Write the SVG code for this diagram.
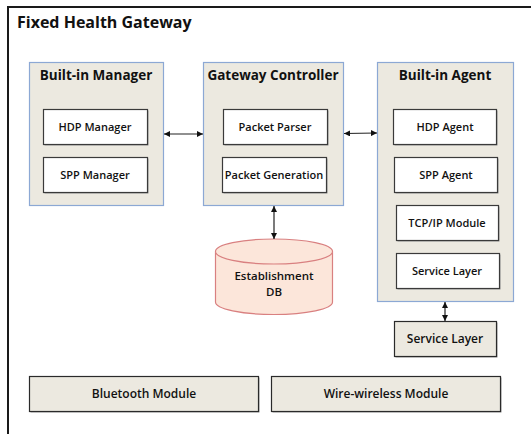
<svg xmlns="http://www.w3.org/2000/svg" width="531" height="434" viewBox="0 0 531 434">
<style>
.frame{fill:none;stroke:#1a1a1a;stroke-width:2}
.grp{fill:#ECE9E0;stroke:#8CA8D4;stroke-width:1.2}
.box{fill:#fff;stroke:#3a3a3a;stroke-width:1.2}
.bbox{fill:#ECE9E0;stroke:#2a2a2a;stroke-width:1.2}
.sh{fill:#9a9a9a}
.db{fill:#FCE6DA;stroke:#D98080;stroke-width:1.2}
text{font-family:"Open Sans","Noto Sans",sans-serif;fill:#111;text-anchor:middle}
.t0{font-size:16px;font-weight:700;text-anchor:start}
.t1{font-size:13.5px;font-weight:700}
.t2{font-size:11px;font-weight:600}
.t3{font-size:12px;font-weight:600}
.t4{font-size:11.5px;font-weight:600}
.conn line{stroke:#222;stroke-width:1.2}
</style>
<defs>
<marker id="ah" viewBox="0 0 10 10" refX="10" refY="5" markerWidth="6" markerHeight="6" orient="auto-start-reverse" markerUnits="userSpaceOnUse">
<path d="M0,0 L10,5 L0,10 z" fill="#111"/>
</marker>
</defs>
<g id="frame">
<line class="frame" x1="8" y1="7" x2="531" y2="7"/>
<line class="frame" x1="8" y1="6" x2="8" y2="434"/>
<text class="t0" x="17" y="28">Fixed Health Gateway</text>
</g>
<g id="built-in-manager">
<rect class="grp" x="29.5" y="62.5" width="134" height="143"/>
<text class="t1" x="96" y="80">Built-in Manager</text>
</g>
<g id="hdp-manager">
<rect class="sh" x="44.5" y="110.5" width="104" height="35"/>
<rect class="box" x="43.5" y="109.5" width="104" height="35"/>
<text class="t2" x="95" y="131">HDP Manager</text>
</g>
<g id="spp-manager">
<rect class="sh" x="44.5" y="158.5" width="104" height="35"/>
<rect class="box" x="43.5" y="157.5" width="104" height="35"/>
<text class="t2" x="95" y="179">SPP Manager</text>
</g>
<g id="gateway-controller">
<rect class="grp" x="203.5" y="62.5" width="140" height="143"/>
<text class="t1" x="273" y="80">Gateway Controller</text>
</g>
<g id="packet-parser">
<rect class="sh" x="224.5" y="110.5" width="104" height="35"/>
<rect class="box" x="223.5" y="109.5" width="104" height="35"/>
<text class="t2" x="275" y="131">Packet Parser</text>
</g>
<g id="packet-generation">
<rect class="sh" x="223.5" y="158.5" width="104" height="35"/>
<rect class="box" x="222.5" y="157.5" width="104" height="35"/>
<text class="t2" x="274" y="179">Packet Generation</text>
</g>
<g id="built-in-agent">
<rect class="grp" x="377.5" y="62.5" width="136" height="239"/>
<text class="t1" x="445" y="80">Built-in Agent</text>
</g>
<g id="hdp-agent">
<rect class="sh" x="394.5" y="110.5" width="103" height="35"/>
<rect class="box" x="393.5" y="109.5" width="103" height="35"/>
<text class="t2" x="445" y="131">HDP  Agent</text>
</g>
<g id="spp-agent">
<rect class="sh" x="395.5" y="158.5" width="103" height="35"/>
<rect class="box" x="394.5" y="157.5" width="103" height="35"/>
<text class="t2" x="446" y="179">SPP Agent</text>
</g>
<g id="tcpip-module">
<rect class="sh" x="397.5" y="206.5" width="102" height="35"/>
<rect class="box" x="396.5" y="205.5" width="102" height="35"/>
<text class="t2" x="447" y="227">TCP/IP Module</text>
</g>
<g id="service-layer-inner">
<rect class="sh" x="397.5" y="254.5" width="103" height="35"/>
<rect class="box" x="396.5" y="253.5" width="103" height="35"/>
<text class="t2" x="447" y="275">Service Layer</text>
</g>
<g id="service-layer-outer">
<rect class="sh" x="395.5" y="322.5" width="102" height="35"/>
<rect class="bbox" x="394.5" y="321.5" width="102" height="35"/>
<text class="t3" x="445" y="343">Service Layer</text>
</g>
<g id="establishment-db">
<path class="db" d="M215.5,251.5 L215.5,302 A58.5,12.5 0 0 0 332.5,302 L332.5,251.5"/>
<ellipse class="db" cx="274" cy="251.5" rx="58.5" ry="12.5"/>
<text class="t4" x="274" y="280">Establishment</text>
<text class="t4" x="274" y="296">DB</text>
</g>
<g id="bluetooth-module">
<rect class="sh" x="30.5" y="377.5" width="229" height="35"/>
<rect class="bbox" x="29.5" y="376.5" width="229" height="35"/>
<text class="t3" x="144" y="398">Bluetooth Module</text>
</g>
<g id="wire-wireless-module">
<rect class="sh" x="272.5" y="377.5" width="229" height="35"/>
<rect class="bbox" x="271.5" y="376.5" width="229" height="35"/>
<text class="t3" x="386" y="398">Wire-wireless Module</text>
</g>
<g class="conn" id="connectors">
<line x1="164" y1="134" x2="203" y2="134" marker-start="url(#ah)" marker-end="url(#ah)"/>
<line x1="344" y1="133.5" x2="377" y2="133" marker-start="url(#ah)" marker-end="url(#ah)"/>
<line x1="274" y1="206" x2="274" y2="239" marker-start="url(#ah)" marker-end="url(#ah)"/>
<line x1="445" y1="302" x2="445" y2="321" marker-start="url(#ah)" marker-end="url(#ah)"/>
</g>
</svg>
